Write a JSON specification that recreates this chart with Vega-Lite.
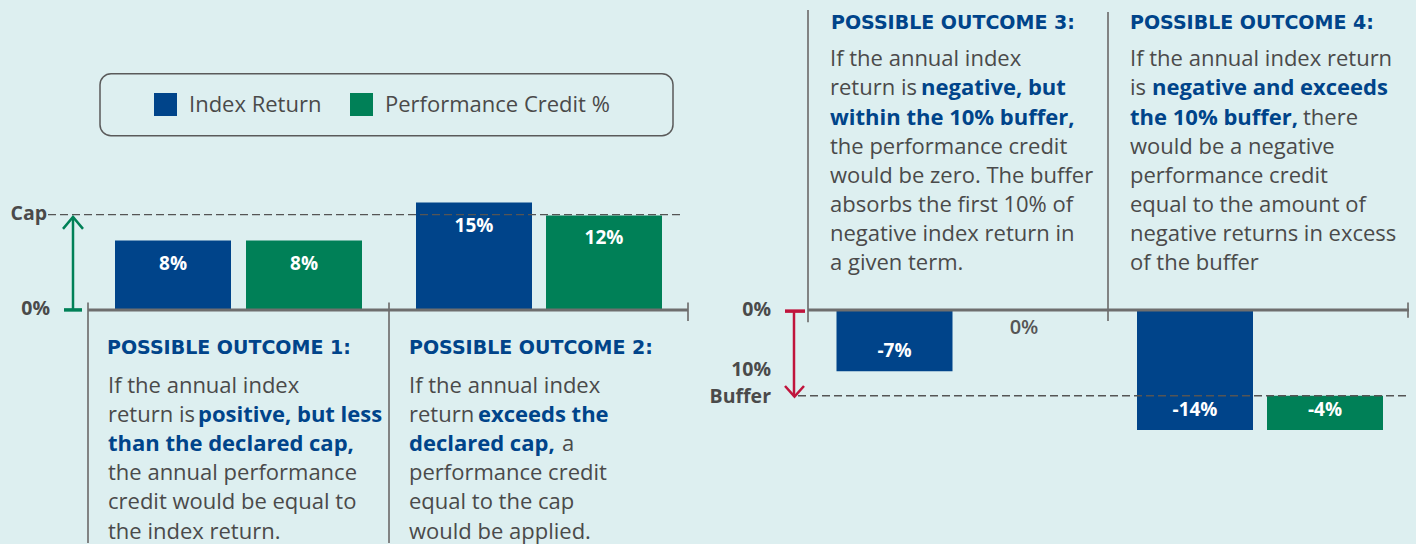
{
  "$schema": "https://vega.github.io/schema/vega-lite/v6.json",
  "width": 1416,
  "height": 544,
  "autosize": {"type": "fit", "contains": "padding"},
  "padding": 0,
  "background": "#ddeff0",
  "config": {"view": {"stroke": null}, "font": "Open Sans", "scale": {"continuousPadding": 0}},
  "datasets": {
    "bars": [
      {"outcome": "Outcome 1", "series": "Index Return", "pos": 173, "from": 0, "to": 8.08, "label": "8%"},
      {"outcome": "Outcome 1", "series": "Performance Credit %", "pos": 304, "from": 0, "to": 8.08, "label": "8%"},
      {"outcome": "Outcome 2", "series": "Index Return", "pos": 474, "from": 0, "to": 12.5, "label": "15%"},
      {"outcome": "Outcome 2", "series": "Performance Credit %", "pos": 604, "from": 0, "to": 11.0, "label": "12%"},
      {"outcome": "Outcome 3", "series": "Index Return", "pos": 894.5, "from": 0, "to": -7.15, "label": "-7%"},
      {"outcome": "Outcome 3", "series": "Performance Credit %", "pos": 1024, "from": 0, "to": 0, "label": "0%"},
      {"outcome": "Outcome 4", "series": "Index Return", "pos": 1195, "from": 0, "to": -14.0, "label": "-14%"},
      {"outcome": "Outcome 4", "series": "Performance Credit %", "pos": 1325, "from": -10.0, "to": -14.0, "label": "-4%"}
    ],
    "legendBox": [{"x0": 100, "x1": 673, "y0": 27.5, "y1": 20.3}],
    "refLines": [
      {"name": "Cap", "x0": 48, "x1": 680, "y": 11.1},
      {"name": "Buffer", "x0": 798, "x1": 1409, "y": -10.0}
    ],
    "baseLines": [
      {"panel": "left", "x0": 88, "x1": 688, "y": 0},
      {"panel": "right", "x0": 808, "x1": 1409, "y": 0}
    ],
    "dividers": [
      {"x": 88, "y0": 0.87, "y1": -27.15},
      {"x": 389, "y0": 0.87, "y1": -27.15},
      {"x": 688, "y0": 0.87, "y1": -1.3},
      {"x": 808, "y0": 34.94, "y1": -1.45},
      {"x": 1108, "y0": 34.71, "y1": -1.3},
      {"x": 1408, "y0": 0.87, "y1": -0.9}
    ],
    "arrowShafts": [
      {"arrow": "Cap", "x": 73, "from": 0, "to": 10.84},
      {"arrow": "Buffer", "x": 794, "from": -0.14, "to": -10.05}
    ],
    "arrowFeet": [
      {"arrow": "Cap", "x0": 64, "x1": 82, "y": 0},
      {"arrow": "Buffer", "x0": 785, "x1": 805, "y": -0.14}
    ],
    "arrowHeads": [
      {"arrow": "Cap", "point": 1, "x": 63, "y": 9.44},
      {"arrow": "Cap", "point": 2, "x": 73, "y": 10.84},
      {"arrow": "Cap", "point": 3, "x": 83, "y": 9.44},
      {"arrow": "Buffer", "point": 1, "x": 785, "y": -8.86},
      {"arrow": "Buffer", "point": 2, "x": 794.5, "y": -10.1},
      {"arrow": "Buffer", "point": 3, "x": 804, "y": -8.86}
    ],
    "axisLabels": [
      {"text": "Cap", "x": 47, "y": 11.2},
      {"text": "0%", "x": 50, "y": 0.1},
      {"text": "0%", "x": 771, "y": 0.0},
      {"text": "10%", "x": 771, "y": -6.99},
      {"text": "Buffer", "x": 771, "y": -10.1}
    ],
    "titles": [
      {"text": "POSSIBLE OUTCOME 1:", "x": 107, "y": -5.09},
      {"text": "POSSIBLE OUTCOME 2:", "x": 409, "y": -5.09},
      {"text": "POSSIBLE OUTCOME 3:", "x": 831, "y": 32.76},
      {"text": "POSSIBLE OUTCOME 4:", "x": 1130, "y": 32.76}
    ],
    "body": [
      {"x": 108, "y": -9.65, "text": "If the annual index"},
      {"x": 108, "y": -13.05, "text": "return is"},
      {"x": 108, "y": -19.84, "text": "the annual performance"},
      {"x": 108, "y": -23.23, "text": "credit would be equal to"},
      {"x": 108, "y": -26.63, "text": "the index return."},
      {"x": 409, "y": -9.65, "text": "If the annual index"},
      {"x": 409, "y": -13.05, "text": "return"},
      {"x": 562, "y": -16.44, "text": "a"},
      {"x": 409, "y": -19.84, "text": "performance credit"},
      {"x": 409, "y": -23.23, "text": "equal to the cap"},
      {"x": 409, "y": -26.63, "text": "would be applied."},
      {"x": 830, "y": 28.37, "text": "If the annual index"},
      {"x": 830, "y": 24.98, "text": "return is"},
      {"x": 830, "y": 18.19, "text": "the performance credit"},
      {"x": 830, "y": 14.79, "text": "would be zero. The buffer"},
      {"x": 830, "y": 11.4, "text": "absorbs the first 10% of"},
      {"x": 830, "y": 8.0, "text": "negative index return in"},
      {"x": 830, "y": 4.6, "text": "a given term."},
      {"x": 1130, "y": 28.37, "text": "If the annual index return"},
      {"x": 1130, "y": 24.98, "text": "is"},
      {"x": 1303, "y": 21.58, "text": "there"},
      {"x": 1130, "y": 18.19, "text": "would be a negative"},
      {"x": 1130, "y": 14.79, "text": "performance credit"},
      {"x": 1130, "y": 11.4, "text": "equal to the amount of"},
      {"x": 1130, "y": 8.0, "text": "negative returns in excess"},
      {"x": 1130, "y": 4.6, "text": "of the buffer"}
    ],
    "emphasis": [
      {"x": 198, "y": -13.05, "text": "positive, but less"},
      {"x": 108, "y": -16.44, "text": "than the declared cap,"},
      {"x": 478, "y": -13.05, "text": "exceeds the"},
      {"x": 409, "y": -16.44, "text": "declared cap,"},
      {"x": 921, "y": 24.98, "text": "negative, but"},
      {"x": 830, "y": 21.58, "text": "within the 10% buffer,"},
      {"x": 1152, "y": 24.98, "text": "negative and exceeds"},
      {"x": 1130, "y": 21.58, "text": "the 10% buffer,"}
    ]
  },
  "layer": [
    {
      "data": {"name": "legendBox"},
      "mark": {"type": "rect", "fill": null, "fillOpacity": 0, "stroke": "#5a5a5a", "strokeWidth": 1.5, "cornerRadius": 11},
      "encoding": {
        "x": {"field": "x0", "type": "quantitative", "scale": {"domain": [0, 1416], "nice": false, "zero": false, "padding": 0}, "axis": null},
        "x2": {"field": "x1"},
        "y": {"field": "y0", "type": "quantitative", "scale": {"domain": [-27.15, 36.1], "nice": false, "zero": false}, "axis": null},
        "y2": {"field": "y1"}
      }
    },
    {
      "data": {"name": "bars"},
      "mark": {"type": "bar", "width": 116, "cornerRadius": 0},
      "encoding": {
        "x": {"field": "pos", "type": "quantitative", "scale": {"domain": [0, 1416], "nice": false, "zero": false, "padding": 0}, "axis": null},
        "y": {"field": "from", "type": "quantitative", "scale": {"domain": [-27.15, 36.1], "nice": false, "zero": false}, "axis": null},
        "y2": {"field": "to"},
        "color": {
          "field": "series", "type": "nominal",
          "scale": {"domain": ["Index Return", "Performance Credit %"], "range": ["#00448a", "#008057"]},
          "legend": {
            "orient": "none", "legendX": 154, "legendY": 93, "direction": "horizontal", "title": null,
            "symbolType": "square", "symbolSize": 529, "symbolStrokeWidth": 0, "symbolOpacity": 1,
            "labelFontSize": 22, "labelFont": "Open Sans", "labelColor": "#4a4a4a", "labelOffset": 12,
            "labelLimit": 500, "columnPadding": 28, "padding": 0
          }
        }
      }
    },
    {
      "data": {"name": "refLines"},
      "mark": {"type": "rule", "color": "#555555", "strokeWidth": 1.3, "strokeDash": [8, 4]},
      "encoding": {
        "x": {"field": "x0", "type": "quantitative", "scale": {"domain": [0, 1416], "nice": false, "zero": false, "padding": 0}, "axis": null},
        "x2": {"field": "x1"},
        "y": {"field": "y", "type": "quantitative", "scale": {"domain": [-27.15, 36.1], "nice": false, "zero": false}, "axis": null}
      }
    },
    {
      "data": {"name": "dividers"},
      "mark": {"type": "rule", "color": "#777777", "strokeWidth": 1.8},
      "encoding": {
        "x": {"field": "x", "type": "quantitative", "scale": {"domain": [0, 1416], "nice": false, "zero": false, "padding": 0}, "axis": null},
        "y": {"field": "y0", "type": "quantitative", "scale": {"domain": [-27.15, 36.1], "nice": false, "zero": false}, "axis": null},
        "y2": {"field": "y1"}
      }
    },
    {
      "data": {"name": "baseLines"},
      "mark": {"type": "rule", "color": "#6e6e6e", "strokeWidth": 3},
      "encoding": {
        "x": {"field": "x0", "type": "quantitative", "scale": {"domain": [0, 1416], "nice": false, "zero": false, "padding": 0}, "axis": null},
        "x2": {"field": "x1"},
        "y": {"field": "y", "type": "quantitative", "scale": {"domain": [-27.15, 36.1], "nice": false, "zero": false}, "axis": null}
      }
    },
    {
      "data": {"name": "arrowShafts"},
      "mark": {"type": "rule", "strokeWidth": 2.5},
      "encoding": {
        "x": {"field": "x", "type": "quantitative", "scale": {"domain": [0, 1416], "nice": false, "zero": false, "padding": 0}, "axis": null},
        "y": {"field": "from", "type": "quantitative", "scale": {"domain": [-27.15, 36.1], "nice": false, "zero": false}, "axis": null},
        "y2": {"field": "to"},
        "stroke": {"field": "arrow", "type": "nominal", "scale": {"domain": ["Cap", "Buffer"], "range": ["#008057", "#c0143c"]}, "legend": null}
      }
    },
    {
      "data": {"name": "arrowFeet"},
      "mark": {"type": "rule", "strokeWidth": 3.5},
      "encoding": {
        "x": {"field": "x0", "type": "quantitative", "scale": {"domain": [0, 1416], "nice": false, "zero": false, "padding": 0}, "axis": null},
        "x2": {"field": "x1"},
        "y": {"field": "y", "type": "quantitative", "scale": {"domain": [-27.15, 36.1], "nice": false, "zero": false}, "axis": null},
        "stroke": {"field": "arrow", "type": "nominal", "scale": {"domain": ["Cap", "Buffer"], "range": ["#008057", "#c0143c"]}, "legend": null}
      }
    },
    {
      "data": {"name": "arrowHeads"},
      "mark": {"type": "line", "strokeWidth": 2.5, "strokeJoin": "miter"},
      "encoding": {
        "x": {"field": "x", "type": "quantitative", "scale": {"domain": [0, 1416], "nice": false, "zero": false, "padding": 0}, "axis": null},
        "y": {"field": "y", "type": "quantitative", "scale": {"domain": [-27.15, 36.1], "nice": false, "zero": false}, "axis": null},
        "order": {"field": "point", "type": "quantitative"},
        "detail": {"field": "arrow", "type": "nominal"},
        "stroke": {"field": "arrow", "type": "nominal", "scale": {"domain": ["Cap", "Buffer"], "range": ["#008057", "#c0143c"]}, "legend": null}
      }
    },
    {
      "data": {"name": "bars"},
      "transform": [{"filter": "datum.to > 0"}],
      "mark": {"type": "text", "color": "#ffffff", "fontSize": 19, "fontWeight": "bold", "align": "center", "baseline": "middle", "dy": 23},
      "encoding": {
        "x": {"field": "pos", "type": "quantitative", "scale": {"domain": [0, 1416], "nice": false, "zero": false, "padding": 0}, "axis": null},
        "y": {"field": "to", "type": "quantitative", "scale": {"domain": [-27.15, 36.1], "nice": false, "zero": false}, "axis": null},
        "text": {"field": "label"}
      }
    },
    {
      "data": {"name": "bars"},
      "transform": [{"filter": "datum.to < 0"}],
      "mark": {"type": "text", "color": "#ffffff", "fontSize": 19, "fontWeight": "bold", "align": "center", "baseline": "middle", "dy": -20},
      "encoding": {
        "x": {"field": "pos", "type": "quantitative", "scale": {"domain": [0, 1416], "nice": false, "zero": false, "padding": 0}, "axis": null},
        "y": {"field": "to", "type": "quantitative", "scale": {"domain": [-27.15, 36.1], "nice": false, "zero": false}, "axis": null},
        "text": {"field": "label"}
      }
    },
    {
      "data": {"name": "bars"},
      "transform": [{"filter": "datum.to == 0 && datum.from == 0"}],
      "mark": {"type": "text", "color": "#555555", "fontSize": 20, "fontWeight": 600, "align": "center", "baseline": "middle", "dy": 18},
      "encoding": {
        "x": {"field": "pos", "type": "quantitative", "scale": {"domain": [0, 1416], "nice": false, "zero": false, "padding": 0}, "axis": null},
        "y": {"field": "to", "type": "quantitative", "scale": {"domain": [-27.15, 36.1], "nice": false, "zero": false}, "axis": null},
        "text": {"field": "label"}
      }
    },
    {
      "data": {"name": "axisLabels"},
      "mark": {"type": "text", "color": "#4a4a4a", "fontSize": 19.5, "fontWeight": "bold", "align": "right", "baseline": "middle"},
      "encoding": {
        "x": {"field": "x", "type": "quantitative", "scale": {"domain": [0, 1416], "nice": false, "zero": false, "padding": 0}, "axis": null},
        "y": {"field": "y", "type": "quantitative", "scale": {"domain": [-27.15, 36.1], "nice": false, "zero": false}, "axis": null},
        "text": {"field": "text"}
      }
    },
    {
      "data": {"name": "titles"},
      "mark": {"type": "text", "color": "#00448a", "font": "DejaVu Sans", "fontSize": 19, "fontWeight": "bold", "align": "left", "baseline": "alphabetic"},
      "encoding": {
        "x": {"field": "x", "type": "quantitative", "scale": {"domain": [0, 1416], "nice": false, "zero": false, "padding": 0}, "axis": null},
        "y": {"field": "y", "type": "quantitative", "scale": {"domain": [-27.15, 36.1], "nice": false, "zero": false}, "axis": null},
        "text": {"field": "text"}
      }
    },
    {
      "data": {"name": "body"},
      "mark": {"type": "text", "color": "#4a4a4a", "fontSize": 22, "fontWeight": "normal", "align": "left", "baseline": "alphabetic"},
      "encoding": {
        "x": {"field": "x", "type": "quantitative", "scale": {"domain": [0, 1416], "nice": false, "zero": false, "padding": 0}, "axis": null},
        "y": {"field": "y", "type": "quantitative", "scale": {"domain": [-27.15, 36.1], "nice": false, "zero": false}, "axis": null},
        "text": {"field": "text"}
      }
    },
    {
      "data": {"name": "emphasis"},
      "mark": {"type": "text", "color": "#00448a", "fontSize": 22, "fontWeight": "bold", "align": "left", "baseline": "alphabetic"},
      "encoding": {
        "x": {"field": "x", "type": "quantitative", "scale": {"domain": [0, 1416], "nice": false, "zero": false, "padding": 0}, "axis": null},
        "y": {"field": "y", "type": "quantitative", "scale": {"domain": [-27.15, 36.1], "nice": false, "zero": false}, "axis": null},
        "text": {"field": "text"}
      }
    }
  ]
}
